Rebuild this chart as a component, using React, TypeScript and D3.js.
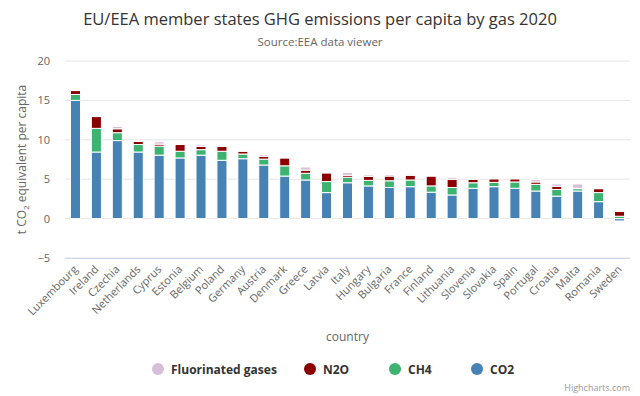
import React from "react";
import * as d3 from "d3";

const countries = [
  "Luxembourg", "Ireland", "Czechia", "Netherlands", "Cyprus", "Estonia", "Belgium",
  "Poland", "Germany", "Austria", "Denmark", "Greece", "Latvia", "Italy", "Hungary",
  "Bulgaria", "France", "Finland", "Lithuania", "Slovenia", "Slovakia", "Spain",
  "Portugal", "Croatia", "Malta", "Romania", "Sweden",
];

const co2 = [15.0, 8.45, 9.9, 8.45, 8.05, 7.7, 8.05, 7.4, 7.6, 6.8, 5.4, 4.9, 3.3, 4.55, 4.15, 3.95, 4.05, 3.35, 3.0, 3.85, 4.05, 3.85, 3.5, 2.85, 3.5, 2.15, -0.3];
const ch4 = [0.75, 3.0, 1.0, 0.95, 1.15, 0.85, 0.7, 1.15, 0.6, 0.75, 1.3, 0.85, 1.4, 0.7, 0.7, 0.85, 0.85, 0.8, 0.95, 0.7, 0.55, 0.8, 0.85, 0.85, 0.3, 1.15, 0.3];
const n2o = [0.5, 1.5, 0.5, 0.4, 0.25, 0.85, 0.4, 0.6, 0.35, 0.35, 1.0, 0.4, 1.1, 0.25, 0.5, 0.6, 0.6, 1.25, 1.05, 0.45, 0.45, 0.4, 0.3, 0.4, 0.05, 0.5, 0.6];
const fgas = [0.1, 0.1, 0.3, 0.1, 0.3, 0.1, 0.2, 0.05, 0.1, 0.2, 0.1, 0.4, 0.1, 0.35, 0.2, 0.2, 0.15, 0.1, 0.25, 0.1, 0.1, 0.1, 0.3, 0.3, 0.55, 0.05, 0.05];

const yTicks = [-5, 0, 5, 10, 15, 20];

// stacking order: bottom -> top
const series = [
  { key: "CO2", values: co2, color: "#4682b4" },
  { key: "CH4", values: ch4, color: "#3cb371" },
  { key: "N2O", values: n2o, color: "#8b0000" },
  { key: "Fluorinated gases", values: fgas, color: "#d8bfd8" },
];

const legendItems = ["Fluorinated gases", "N2O", "CH4", "CO2"];

const W = 640;
const H = 396;
const margin = { top: 61, right: 10, bottom: 138, left: 65 };
const font = "'Open Sans', 'DejaVu Sans', sans-serif";

export default function App() {
  const rows = countries.map((c, i) => {
    const r: any = { country: c };
    series.forEach((s) => (r[s.key] = s.values[i]));
    return r;
  });

  const stacked = d3
    .stack<any>()
    .keys(series.map((s) => s.key))
    .offset(d3.stackOffsetDiverging)(rows);

  const x = d3
    .scaleBand()
    .domain(countries)
    .range([margin.left, W - margin.right])
    .paddingInner(0.52)
    .paddingOuter(0.26);

  const y = d3
    .scaleLinear()
    .domain([-5, 20])
    .range([H - margin.bottom, margin.top]);

  const color = d3
    .scaleOrdinal<string>()
    .domain(series.map((s) => s.key))
    .range(series.map((s) => s.color));

  const legendX = [158, 310, 395, 477];

  return (
    <svg width={W} height={H} style={{ position: "absolute", left: 0, top: 0, fontFamily: font }}>
      <rect width={W} height={H} fill="#fff" />
      <text x={320} y={25} textAnchor="middle" fontSize={16.5} fill="#333">
        EU/EEA member states GHG emissions per capita by gas 2020
      </text>
      <text x={320} y={46} textAnchor="middle" fontSize={11.5} fill="#666">
        Source:EEA data viewer
      </text>

      {/* grid */}
      {yTicks.map((t) => (
        <g key={t}>
          <line x1={margin.left} x2={W - margin.right} y1={y(t)} y2={y(t)} stroke="#e6e6e6" />
          <text x={50} y={y(t) + 4} textAnchor="end" fontSize={11} fill="#666">
            {t === -5 ? "\u22125" : t}
          </text>
        </g>
      ))}
      <line x1={margin.left} x2={W - margin.right} y1={y(-5) + 0.5} y2={y(-5) + 0.5} stroke="#ccd6eb" />

      {/* bars */}
      {stacked.map((layer) => (
        <g key={layer.key} fill={color(layer.key)}>
          {layer.map((d, i) => {
            const top = y(Math.max(d[0], d[1]));
            const bot = y(Math.min(d[0], d[1]));
            return (
              <rect
                key={i}
                x={x(countries[i])}
                y={top}
                width={x.bandwidth()}
                height={Math.max(0, bot - top)}
                stroke="#fff"
                strokeWidth={1}
              />
            );
          })}
        </g>
      ))}

      {/* x labels */}
      {countries.map((c) => {
        const cx = (x(c) as number) + x.bandwidth() / 2;
        return (
          <text
            key={c}
            transform={`translate(${cx + 3},${y(-5) + 12}) rotate(-45)`}
            textAnchor="end"
            fontSize={11}
            fill="#666"
          >
            {c}
          </text>
        );
      })}

      <text x={(margin.left + W - margin.right) / 2} y={341} textAnchor="middle" fontSize={12} fill="#666">
        country
      </text>
      <text
        transform={`translate(26,${(y(20) + y(-5)) / 2}) rotate(-90)`}
        textAnchor="middle"
        fontSize={12}
        fill="#666"
      >
        t CO<tspan fontSize={8} dy={3}>2</tspan>
        <tspan dy={-3}> equivalent per capita</tspan>
      </text>

      {/* legend */}
      {legendItems.map((k, i) => (
        <g key={k} transform={`translate(${legendX[i]},369)`}>
          <circle cx={0} cy={0} r={6} fill={color(k)} />
          <text x={13} y={4.5} fontSize={12} fontWeight="bold" fill="#333">
            {k}
          </text>
        </g>
      ))}

      <text x={630} y={391} textAnchor="end" fontSize={9} fill="#999">
        Highcharts.com
      </text>
    </svg>
  );
}
